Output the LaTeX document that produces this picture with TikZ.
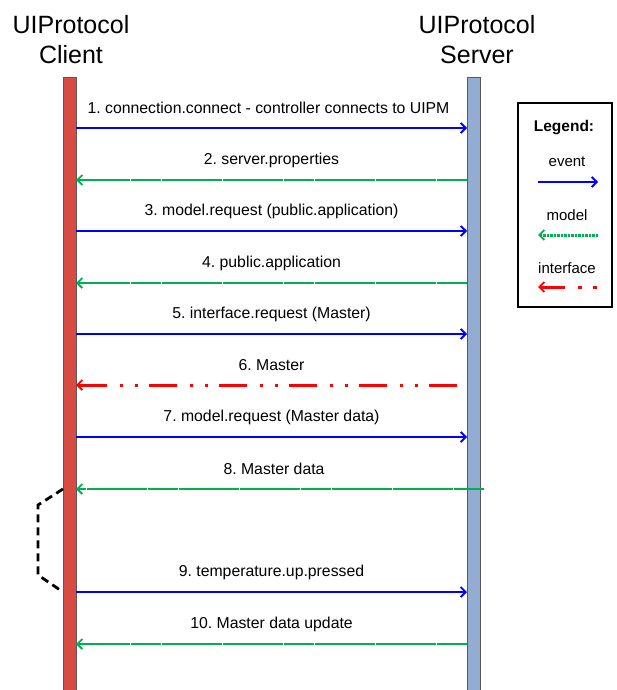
\documentclass[tikz,border=0pt]{standalone}
\usepackage{fontspec}
\setmainfont{Liberation Sans}
\usetikzlibrary{arrows.meta}
\frenchspacing

\definecolor{clientred}{RGB}{214,76,66}
\definecolor{serverblue}{RGB}{146,172,210}
\definecolor{evblue}{RGB}{0,0,255}
\definecolor{mdgreen}{RGB}{0,176,80}
\definecolor{ifred}{RGB}{255,0,0}

\begin{document}
\begin{tikzpicture}[x=1pt,y=-1pt,
  lifeline/.style={draw=black!65, line width=0.8pt, minimum width=13pt, inner sep=0pt, outer sep=0pt},
  header/.style={align=center, font=\fontsize{25}{30}\selectfont},
  msg/.style={font=\fontsize{15.8}{18}\selectfont, inner sep=0pt},
  legtext/.style={font=\fontsize{15}{18}\selectfont, inner sep=0pt},
  tip/.style={-{Straight Barb[length=5pt,width=10pt,line width=1.8pt]}},
  event/.style={draw=evblue, line width=2.5pt, tip},
  model/.style={draw=mdgreen, line width=2.5pt, dash pattern=on 30pt off 0.6pt, tip},
  iface/.style={draw=ifred, line width=3pt, tip,
    dash pattern=on 28pt off 11pt on 3pt off 12pt on 3pt off 13pt},
  bracket/.style={draw=black, line width=2.8pt, dash pattern=on 8pt off 5pt}
]
\useasboundingbox (0,0) rectangle (616,690);

% headers
\node[header] (hclient) at (71,40) {UIProtocol\\Client};
\node[header] (hserver) at (477,40) {UIProtocol\\Server};

% lifelines
\node[lifeline, fill=clientred, minimum height=613pt] (client) at (69.5,383.5) {};
\node[lifeline, fill=serverblue, minimum height=613pt] (server) at (473.5,383.5) {};

% message end points on both lifelines
\foreach \n/\y in {1/128,2/180,3/231,4/283,5/334,6/385,7/437,8/489,9/592,10/644} {
  \coordinate (c\n) at (client.east |- 0,\y);
  \coordinate (s\n) at (server.west |- 0,\y);
}
\coordinate (i6) at (457,385);
\coordinate (o8) at (484,489);

% messages
\draw[event] (c1) -- node[msg, yshift=20pt, xshift=-3pt] {1. connection.connect - controller connects to UIPM} (s1);
\draw[model] (s2) -- node[msg, yshift=20pt] {2. server.properties} (c2);
\draw[event] (c3) -- node[msg, yshift=20pt] {3. model.request (public.application)} (s3);
\draw[model] (s4) -- node[msg, yshift=20pt] {4. public.application} (c4);
\draw[event] (c5) -- node[msg, yshift=20pt] {5. interface.request (Master)} (s5);
\path (c6) -- node[msg, yshift=20pt] {6. Master} (s6);
\draw[iface] (i6) -- (c6);
\draw[event] (c7) -- node[msg, yshift=20pt] {7. model.request (Master data)} (s7);
\draw[model] (o8) -- node[msg, yshift=20pt, xshift=-6pt] {8. Master data} (c8);
\draw[event] (c9) -- node[msg, yshift=20pt] {9. temperature.up.pressed} (s9);
\draw[model] (s10) -- node[msg, yshift=20pt] {10. Master data update} (c10);

% waiting bracket on the client side
\coordinate (b1) at (client.west |- 0,489);
\coordinate (b2) at (client.west |- 0,592);
\draw[bracket] (b1) -- (38,505) -- (38,575) -- (b2);

% legend
\node[draw=black, line width=1.8pt, minimum width=94pt, minimum height=204pt, inner sep=0pt] (legend) at (565,205) {};
\node[legtext, font=\fontsize{15.5}{18}\selectfont\bfseries] (legtitle) at (564,128) {Legend:};
\node[legtext] (legev) at (567,162) {event};
\node[legtext] (legmd) at (567,215) {model};
\node[legtext] (legif) at (567,268) {interface};
\coordinate (le1) at (538,182); \coordinate (le2) at (598,182);
\coordinate (lm1) at (538,235); \coordinate (lm2) at (598,235);
\coordinate (li1) at (538,287); \coordinate (li2) at (597,287);
\draw[event] (le1) -- (le2);
\draw[model, line width=3pt, dash pattern=on 2.5pt off 1pt] (lm2) -- (lm1);
\draw[iface, dash pattern=on 4pt off 11pt on 4pt off 13pt on 40pt] (li2) -- (li1);
\end{tikzpicture}
\end{document}
